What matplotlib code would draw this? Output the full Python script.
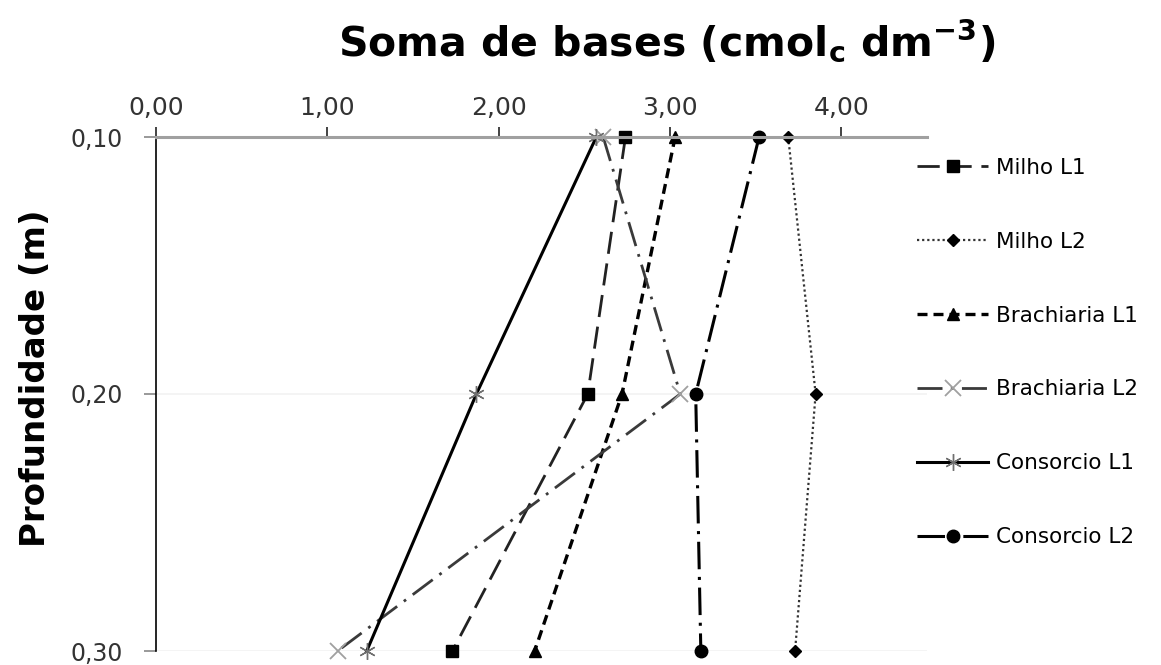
import matplotlib.pyplot as plt
import numpy as np

plt.rcParams['font.family'] = ['DejaVu Sans']

depth = [0.10, 0.20, 0.30]
depth_ticks = ['0,10', '0,20', '0,30']
x_ticks = [0, 1, 2, 3, 4]
x_ticklabels = ['0,00', '1,00', '2,00', '3,00', '4,00']

milho_l1 = [2.74, 2.52, 1.73]
milho_l2 = [3.69, 3.85, 3.73]
brach_l1 = [3.03, 2.72, 2.21]
brach_l2 = [2.61, 3.06, 1.06]
cons_l1 = [2.57, 1.87, 1.23]
cons_l2 = [3.52, 3.15, 3.18]

fig = plt.figure(figsize=(11.61, 6.65), dpi=100)
ax = fig.add_axes([156/1161, 1 - 651/665, (927-156)/1161, (651-137)/665])

lw = 2.0
ax.plot(milho_l1, depth, color='#222222', lw=lw, ls=(0, (8, 3.5)),
        marker='s', ms=8, mfc='black', mec='black', label='Milho L1', clip_on=False)
ax.plot(milho_l2, depth, color='#333333', lw=1.6, ls=(0, (1, 1.3)),
        marker='D', ms=6, mfc='black', mec='black', label='Milho L2', clip_on=False)
ax.plot(brach_l1, depth, color='black', lw=2.4, ls=(0, (3, 1.8)),
        marker='^', ms=9, mfc='black', mec='black', label='Brachiaria L1', clip_on=False)
ax.plot(brach_l2, depth, color='#3a3a3a', lw=lw, ls=(0, (9, 3, 1, 3)),
        marker='x', ms=11, mec='#a0a0a0', mew=1.3, label='Brachiaria L2', clip_on=False)
ax.plot(cons_l1, depth, color='black', lw=2.2, ls='-',
        marker=(6, 2, 0), ms=12, mec='#707070', mew=1.0, label='Consorcio L1', clip_on=False)
ax.plot(cons_l2, depth, color='black', lw=2.2, ls=(0, (9, 2.5, 1, 2.5)),
        marker='o', ms=9, mfc='black', mec='black', label='Consorcio L2', clip_on=False)

ax.set_xlim(0, 4.5)
ax.set_ylim(0.30, 0.10)
ax.xaxis.tick_top()
ax.set_xticks(x_ticks)
ax.set_xticklabels(x_ticklabels)
ax.set_yticks(depth)
ax.set_yticklabels(depth_ticks)
ax.tick_params(axis='x', direction='out', length=7, width=1.2, color='#222222',
               labelsize=18, labelcolor='#333333', pad=5)
ax.tick_params(axis='y', direction='out', length=9, width=1.2, color='#888888',
               labelsize=17, labelcolor='#333333', pad=15)

for s in ['right', 'bottom']:
    ax.spines[s].set_visible(False)
ax.spines['top'].set_color('#a0a0a0')
ax.spines['top'].set_linewidth(2.2)
ax.spines['left'].set_color('black')
ax.spines['left'].set_linewidth(1.2)
ax.yaxis.grid(True, color='#f2f2f2', lw=1.2)
ax.set_axisbelow(True)

ax.set_ylabel('Profundidade (m)', fontsize=24.5, fontweight='bold')
ax.yaxis.set_label_coords(-0.135, 0.53)
fig.text(667/1161, 1 - 41/665, 'Soma de bases (cmol$_\\mathbf{c}$ dm$^\\mathbf{-3}$)',
         fontsize=29.5, fontweight='bold', ha='center', va='center')

fig.legend(loc='upper left', bbox_to_anchor=(917/1161, 1 - 158/665), frameon=False,
           fontsize=15.5, handlelength=3.3, handletextpad=0.37, labelspacing=2.5,
           borderaxespad=0, borderpad=0)

fig.savefig('out.png', dpi=100)
